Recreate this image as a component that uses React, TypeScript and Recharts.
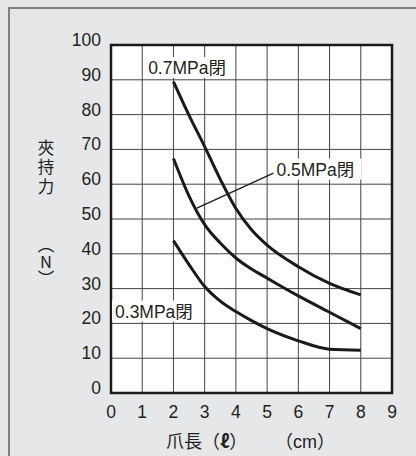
import React from "react";
import {
  LineChart,
  Line,
  XAxis,
  YAxis,
  CartesianGrid,
  ReferenceLine,
  ReferenceArea,
  ReferenceDot,
} from "recharts";

// 爪長 (cm)
const lengths = [2, 2.5, 3, 3.5, 4, 4.5, 5, 6, 7, 8];
// 夾持力 (N)
const force07 = [89.5, 79.8, 70.8, 61.4, 53.0, 46.9, 42.5, 36.3, 31.5, 28.2];
const force05 = [67.4, 56.6, 48.4, 43.1, 38.8, 35.6, 33.0, 27.9, 23.2, 18.5];
const force03 = [43.8, 36.9, 30.6, 26.4, 23.4, 20.8, 18.5, 15.0, 12.6, 12.3];

const xTicks = [0, 1, 2, 3, 4, 5, 6, 7, 8, 9];
const yTicks = [0, 10, 20, 30, 40, 50, 60, 70, 80, 90, 100];

const seriesLabels = ["0.7MPa閉", "0.5MPa閉", "0.3MPa閉"];

const FONT = '"Liberation Sans", Arial, "Noto Sans CJK TC", sans-serif';
const CJK = '"Noto Sans CJK TC", sans-serif';
const INK = "#231f20";

const data = lengths.map((l, i) => ({
  len: l,
  p07: force07[i],
  p05: force05[i],
  p03: force03[i],
}));

function YTick({ x, y, payload }: any) {
  return (
    <text x={x - 8} y={y - 5} textAnchor="end" dominantBaseline="central"
      fontSize={17.5} fill={INK} fontFamily={FONT}>
      {payload.value}
    </text>
  );
}

function XTick({ x, y, payload }: any) {
  return (
    <text x={x} y={y + 17} textAnchor="middle" dominantBaseline="central"
      fontSize={17.5} fill={INK} fontFamily={FONT}>
      {payload.value}
    </text>
  );
}

function boxLabel(text: string) {
  return ({ cx, cy }: any) => (
    <g>
      <rect x={cx - 3} y={cy - 11} width={88} height={21} fill="#fff" />
      <text x={cx} y={cy} dominantBaseline="central" fontSize={17.5}
        fill={INK} fontFamily={FONT}>
        {text}
      </text>
    </g>
  );
}

const vertical: React.CSSProperties = {
  position: "absolute",
  writingMode: "vertical-rl",
  textOrientation: "upright",
  fontSize: 16.5,
  lineHeight: "20px",
  color: INK,
  fontFamily: CJK,
};

export default function App() {
  return (
    <div style={{ position: "absolute", left: 0, top: 0, width: 416, height: 456,
      background: "#e6e7e8", overflow: "hidden", fontFamily: FONT }}>
      <div style={{ position: "absolute", left: 8, top: 7, width: 420, height: 460,
        borderTop: "2px solid #808080", borderLeft: "2px solid #808080" }} />
      <div style={{ position: "absolute", left: 0, top: 0 }}>
        <LineChart width={416} height={456} data={data}
          margin={{ top: 45, right: 24, bottom: 0, left: 0 }}>
          <CartesianGrid stroke="#444" strokeWidth={1} fill="#fff" fillOpacity={1}
            verticalValues={xTicks} horizontalValues={yTicks} />
          <XAxis dataKey="len" type="number" domain={[0, 9]} ticks={xTicks}
            height={63} tickLine={false} tickSize={0} axisLine={false}
            tick={<XTick />} interval={0} />
          <YAxis type="number" domain={[0, 100]} ticks={yTicks} width={111}
            tickLine={false} tickSize={0} axisLine={false} tick={<YTick />} interval={0} />
          <ReferenceArea x1={0} x2={9} y1={0} y2={100} fill="none"
            stroke="#1a1a1a" strokeWidth={2.5} ifOverflow="visible" />
          <ReferenceLine segment={[{ x: 2.75, y: 53.1 }, { x: 5.31, y: 63.6 }]}
            stroke="#1a1a1a" strokeWidth={1.3} />
          <Line dataKey="p07" type="monotone" stroke="#1a1a1a" strokeWidth={3}
            dot={false} isAnimationActive={false} />
          <Line dataKey="p05" type="monotone" stroke="#1a1a1a" strokeWidth={3}
            dot={false} isAnimationActive={false} />
          <Line dataKey="p03" type="monotone" stroke="#1a1a1a" strokeWidth={3}
            dot={false} isAnimationActive={false} />
          <ReferenceDot x={1.19} y={93.4} shape={boxLabel(seriesLabels[0])} ifOverflow="visible" />
          <ReferenceDot x={5.3} y={64.2} shape={boxLabel(seriesLabels[1])} ifOverflow="visible" />
          <ReferenceDot x={0.13} y={23.4} shape={boxLabel(seriesLabels[2])} ifOverflow="visible" />
        </LineChart>
      </div>
      <div style={{ ...vertical, left: 36, top: 139, letterSpacing: 3 }}>夾持力</div>
      <div style={{ ...vertical, left: 36, top: 236, letterSpacing: 0.5 }}>（N）</div>
      <div style={{ position: "absolute", left: 166, top: 429, fontSize: 18,
        lineHeight: "22px", color: INK, whiteSpace: "pre", fontFamily: CJK }}>
        爪長（<span style={{ fontWeight: "bold" }}>ℓ</span>）
      </div>
      <div style={{ position: "absolute", left: 275, top: 429, fontSize: 18,
        lineHeight: "22px", color: INK, whiteSpace: "pre", fontFamily: CJK }}>
        （<span style={{ fontFamily: FONT }}>cm</span>）
      </div>
    </div>
  );
}
